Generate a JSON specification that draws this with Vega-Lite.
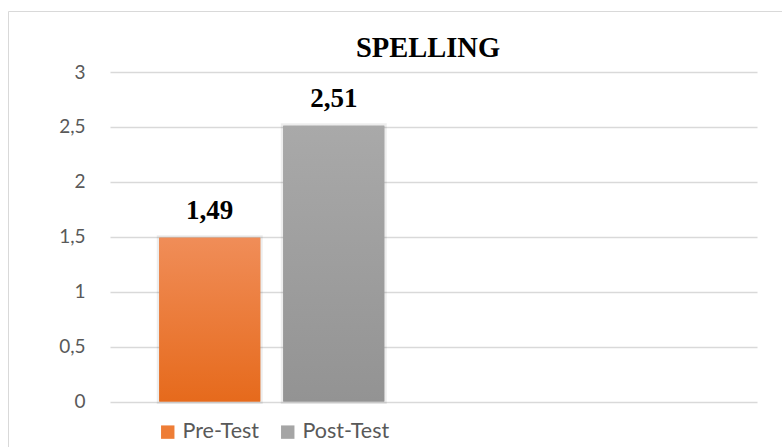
{
  "$schema": "https://vega.github.io/schema/vega-lite/v6.json",
  "autosize": {"type": "none"},
  "padding": {"left": 8, "top": 11, "right": 0, "bottom": 0},
  "width": 774,
  "height": 436,
  "background": "#ffffff",
  "config": {
    "view": {"stroke": "#d9d9d9", "strokeWidth": 1},
    "locale": {"number": {"decimal": ",", "thousands": ".", "grouping": [3], "currency": ["", " €"]}}
  },
  "title": {
    "text": "SPELLING",
    "font": "Liberation Serif",
    "fontSize": 28.5,
    "fontWeight": "bold",
    "color": "#000000",
    "anchor": "middle",
    "frame": "group",
    "baseline": "alphabetic",
    "offset": 0,
    "dy": 74,
    "dx": 33
  },
  "data": {
    "values": [
      {"cat": "1", "series": "Pre-Test", "value": 1.49},
      {"cat": "1", "series": "Post-Test", "value": 2.51}
    ]
  },
  "encoding": {
    "x": {"field": "cat", "type": "nominal", "axis": null,
          "scale": {"domain": ["1", "2"], "range": [102, 749], "paddingInner": 0, "paddingOuter": 0}},
    "xOffset": {"field": "series", "type": "nominal",
                "scale": {"domain": ["Pre-Test", "Post-Test"], "paddingInner": 0.1855, "paddingOuter": 0.397}},
    "y": {"field": "value", "type": "quantitative",
          "scale": {"domain": [0, 3], "range": [390.5, 61], "nice": false, "zero": true},
          "axis": {"title": null, "values": [0, 0.5, 1, 1.5, 2, 2.5, 3], "format": "~g",
                   "grid": true, "gridColor": "#d9d9d9", "gridWidth": 1.3,
                   "domain": false, "ticks": false, "tickSize": 0, "labelPadding": 0, "offset": -77,
                   "labelFont": "Lato", "labelFontSize": 19, "labelColor": "#595959"}}
  },
  "layer": [
    {
      "mark": {"type": "bar", "stroke": "#000000", "strokeOpacity": 0.07, "strokeWidth": 5},
      "encoding": {
        "color": {"field": "series", "type": "nominal",
                  "scale": {"domain": ["Pre-Test", "Post-Test"], "range": ["#EE7D36", "#A5A5A5"]},
                  "legend": {"orient": "none", "legendX": 149, "legendY": 410, "direction": "horizontal",
                             "title": null, "symbolType": "square", "symbolSize": 180, "symbolStrokeWidth": 0,
                             "labelFont": "Lato", "labelFontSize": 21.5, "labelColor": "#595959",
                             "columnPadding": 17, "labelOffset": 4, "padding": 0}}
      }
    },
    {
      "transform": [{"filter": "datum.series === 'Pre-Test'"}],
      "mark": {"type": "bar", "fill": {"gradient": "linear", "x1": 0, "y1": 0, "x2": 0, "y2": 1,
               "stops": [{"offset": 0, "color": "#F08D58"}, {"offset": 1, "color": "#E66A1C"}]}}
    },
    {
      "transform": [{"filter": "datum.series === 'Post-Test'"}],
      "mark": {"type": "bar", "fill": {"gradient": "linear", "x1": 0, "y1": 0, "x2": 0, "y2": 1,
               "stops": [{"offset": 0, "color": "#A9A9A9"}, {"offset": 1, "color": "#939393"}]}}
    },
    {
      "mark": {"type": "text", "font": "Liberation Serif", "fontSize": 27, "fontWeight": "bold",
               "color": "#000000", "baseline": "alphabetic", "dy": -19},
      "encoding": {"text": {"field": "value", "type": "quantitative", "format": ".2f"}}
    }
  ]
}
